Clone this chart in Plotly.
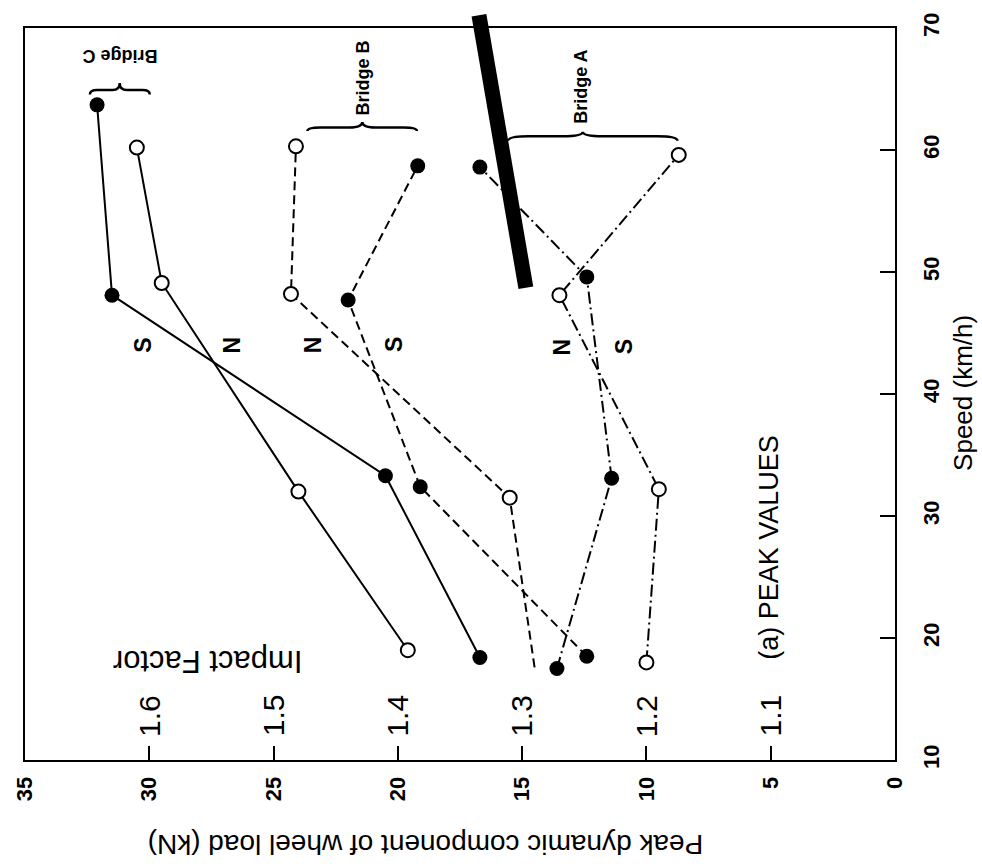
import plotly.graph_objects as go

# ---------------- data ----------------
speed_c_s = [18.4, 33.3, 48.1, 63.7]
load_c_s = [16.7, 20.5, 31.5, 32.1]
speed_c_n = [19.0, 32.0, 49.1, 60.2]
load_c_n = [19.6, 24.0, 29.5, 30.5]

speed_b_n = [17.6, 31.5, 48.2, 60.3]
load_b_n = [14.5, 15.5, 24.3, 24.1]
speed_b_s = [18.5, 32.4, 47.7, 58.7]
load_b_s = [12.4, 19.1, 22.0, 19.2]

speed_a_s = [17.5, 33.1, 49.6, 58.6]
load_a_s = [13.6, 11.4, 12.4, 16.7]
speed_a_n = [18.0, 32.2, 48.1, 59.6]
load_a_n = [10.0, 9.5, 13.5, 8.7]

load_ticks = [0, 5, 10, 15, 20, 25, 30, 35]
speed_ticks = [10, 20, 30, 40, 50, 60, 70]
impact_loads = [30, 25, 20, 15, 10, 5]
impact_labels = ["1.6", "1.5", "1.4", "1.3", "1.2", "1.1"]

FONT = "Arial, Liberation Sans, sans-serif"

fig = go.Figure()


def add_series(load, speed, filled, dash, marker_opacity=None):
    marker = dict(
        symbol="circle",
        size=15 if filled else 14,
        color="black" if filled else "white",
        line=dict(color="black", width=0 if filled else 2),
    )
    if marker_opacity is not None:
        marker["opacity"] = marker_opacity
    fig.add_trace(go.Scatter(
        x=load, y=speed, mode="lines+markers",
        line=dict(color="black", width=2, dash=dash),
        marker=marker, showlegend=False, hoverinfo="x+y",
    ))


# Bridge C (solid)
add_series(load_c_s, speed_c_s, True, "solid")
add_series(load_c_n, speed_c_n, False, "solid")
# Bridge B (dashed)
add_series(load_b_n, speed_b_n, False, "9px,5px", [0, 1, 1, 1])
add_series(load_b_s, speed_b_s, True, "9px,5px")
# Bridge A (dash-dot)
add_series(load_a_s, speed_a_s, True, "12px,4px,2px,4px")
add_series(load_a_n, speed_a_n, False, "12px,4px,2px,4px")


def brace(x0, x1, xm, yend, ybar, ytip):
    q = (x1 - x0) * 0.12
    return (f"M {x0},{yend} Q {x0},{ybar} {x0 + q},{ybar} L {xm - q},{ybar} "
            f"Q {xm},{ybar} {xm},{ytip} Q {xm},{ybar} {xm + q},{ybar} "
            f"L {x1 - q},{ybar} Q {x1},{ybar} {x1},{yend}")


shapes = [
    dict(type="path", xref="x", yref="y",
         path=brace(32.39, 29.98, 31.19, 64.55, 64.92, 65.5),
         line=dict(color="black", width=2.5)),
    dict(type="path", xref="x", yref="y",
         path=brace(23.64, 19.23, 21.43, 61.55, 61.85, 62.3),
         line=dict(color="black", width=2.5)),
    dict(type="path", xref="x", yref="y",
         path=brace(15.57, 8.75, 12.56, 60.75, 61.13, 61.5),
         line=dict(color="black", width=2.5)),
    # thick black bar (scan artefact)
    dict(type="line", xref="paper", yref="paper",
         x0=0.5218, y0=1.0175, x1=0.5757, y1=0.6452,
         line=dict(color="black", width=15)),
]

annotations = []


def txt(text, x, y, size, angle=0, xref="x", yref="y", bold=False):
    annotations.append(dict(
        text=f"<b>{text}</b>" if bold else text, x=x, y=y, xref=xref, yref=yref,
        showarrow=False, textangle=angle, xanchor="center", yanchor="middle",
        font=dict(family=FONT, size=size, color="black"),
    ))


# Impact factor scale
for lv, lab in zip(impact_loads, impact_labels):
    txt(lab, lv, 13.63, 30, -90)
txt("Impact Factor", 27.67, 18.06, 31, 180)
txt("(a) PEAK VALUES", 5.06, 27.42, 27, -90)

# N / S labels
for lab, lx, sy in [("S", 30.26, 44.03), ("N", 26.69, 44.03),
                    ("N", 23.44, 44.03), ("S", 20.15, 44.03),
                    ("N", 13.41, 43.87), ("S", 10.92, 43.87)]:
    txt(lab, lx, sy, 23, -90, bold=True)

# Bridge labels
txt("Bridge A", 12.64, 65.16, 18, -90, bold=True)
txt("Bridge B", 21.39, 65.89, 18, -90, bold=True)
txt("Bridge C", 31.19, 67.66, 18, 180, bold=True)

# axis titles
txt("Peak dynamic component of wheel load (kN)", 0.4599, -0.1156, 28, 180,
    xref="paper", yref="paper")
txt("Speed (km/h)", 1.078, 0.5013, 26, -90, xref="paper", yref="paper")

fig.update_layout(
    width=982, height=866,
    margin=dict(l=23, r=87, t=16, b=106),
    paper_bgcolor="white", plot_bgcolor="white",
    shapes=shapes, annotations=annotations,
    font=dict(family=FONT, color="black"),
)

tickfont = dict(family=FONT, size=22, color="black", weight="bold")

fig.update_xaxes(
    range=[35, 0], tickvals=load_ticks, ticktext=[str(v) for v in load_ticks],
    ticks="inside", ticklen=14, tickwidth=2, tickcolor="black",
    tickangle=-90, tickfont=tickfont,
    ticklabelstandoff=6,
    showline=True, linecolor="black", linewidth=2, mirror=True,
    showgrid=False, zeroline=False,
)
fig.update_yaxes(
    range=[10, 70], side="right", tickvals=speed_ticks,
    ticktext=[str(v) for v in speed_ticks],
    ticks="inside", ticklen=15, tickwidth=2, tickcolor="black",
    tickangle=-90, tickfont=tickfont,
    ticklabelstandoff=16,
    showline=True, linecolor="black", linewidth=2, mirror=True,
    showgrid=False, zeroline=False,
)

fig.write_html("out.html")
